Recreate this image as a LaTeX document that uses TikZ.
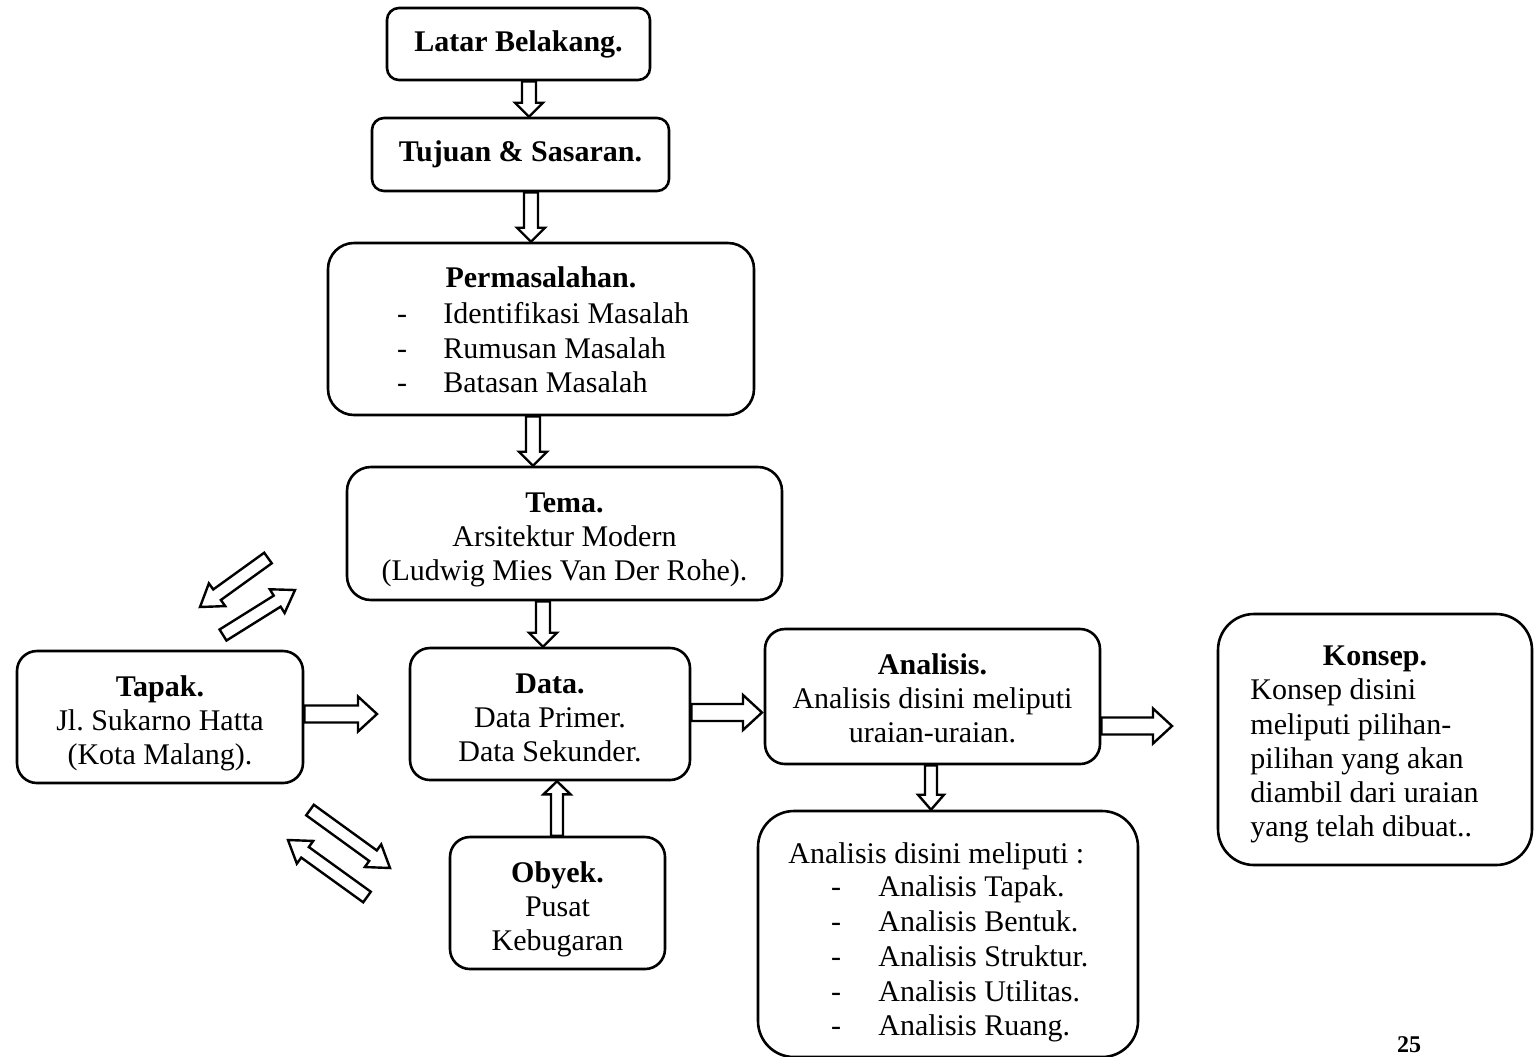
\documentclass[tikz,border=0pt]{standalone}
\usepackage{fontspec}
\setmainfont{Liberation Serif}
\usetikzlibrary{calc}
\frenchspacing

\tikzset{
  box/.style={draw, line width=1.3pt, align=center, inner sep=0pt,
    font=\fontsize{15}{17}\selectfont},
  boxtext/.style={align=center, inner sep=0pt, font=\fontsize{15}{17}\selectfont},
  txt/.style={inner sep=0pt, anchor=base west, font=\fontsize{15}{17}\selectfont},
  dashtxt/.style={inner sep=0pt, anchor=base, font=\fontsize{15}{17}\selectfont},
  ttl/.style={inner sep=0pt, anchor=base, font=\fontsize{15}{17}\selectfont\bfseries},
  arrowline/.style={draw, line width=1.2pt, line join=miter, fill=white},
}

% hollow block arrow: #1 tail, #2 tip, #3 half shaft width, #4 half head width, #5 head length
\newcommand{\blockarrow}[5]{%
  \coordinate (ba-h) at ($(#2)!#5!(#1)$);
  \path[arrowline] ($(#1)!#3!90:(#2)$) -- ($(ba-h)!#3!-90:(#1)$)
    -- ($(ba-h)!#4!-90:(#1)$) -- (#2) -- ($(ba-h)!#4!90:(#1)$)
    -- ($(ba-h)!#3!90:(#1)$) -- ($(#1)!#3!-90:(#2)$) -- cycle;}

\begin{document}
\begin{tikzpicture}[x=0.5pt,y=-0.5pt]
\useasboundingbox (0,0) rectangle (1534,1056);

% boxes
\node[box, minimum width=131.5pt, minimum height=36pt, rounded corners=6pt]
  (lb) at (518.5,44) {\textbf{Latar Belakang.}};
\node[box, minimum width=148.5pt, minimum height=36.5pt, rounded corners=6pt]
  (ts) at (520.5,154.5) {\textbf{Tujuan \& Sasaran.}};
\node[box, minimum width=213pt, minimum height=86pt, rounded corners=13pt]
  (pm) at (541,329) {};
\node[box, minimum width=217.5pt, minimum height=66.5pt, rounded corners=12pt]
  (tm) at (564.5,533.5) {};
\node[box, minimum width=143pt, minimum height=66pt, rounded corners=10pt]
  (tp) at (160,717) {};
\node[box, minimum width=140pt, minimum height=66pt, rounded corners=10pt]
  (dt) at (550,714) {};
\node[box, minimum width=107.5pt, minimum height=66pt, rounded corners=10pt]
  (ob) at (557.5,903) {};
\node[box, minimum width=167.5pt, minimum height=67.5pt, rounded corners=10pt]
  (an) at (932.5,696.5) {};
\node[box, minimum width=190pt, minimum height=123pt, rounded corners=18pt]
  (al) at (948,934) {};
\node[box, minimum width=157pt, minimum height=125.5pt, rounded corners=18pt]
  (ks) at (1375,739.5) {};

% centred box texts
\node[boxtext] (tm-t) at (564.5,539.5) {\textbf{Tema.}\\Arsitektur Modern\\(Ludwig Mies Van Der Rohe).};
\node[boxtext] (tp-t) at (160,723) {\textbf{Tapak.}\\Jl. Sukarno Hatta\\(Kota Malang).};
\node[boxtext] (dt-t) at (550,718) {\textbf{Data.}\\Data Primer.\\Data Sekunder.};
\node[boxtext] (ob-t) at (557.5,909) {\textbf{Obyek.}\\Pusat\\Kebugaran};
\node[boxtext] (an-t) at (932.5,698.5) {\textbf{Analisis.}\\Analisis disini meliputi\\uraian-uraian.};

% Permasalahan text
\node[ttl] (pm-t) at (541,287) {Permasalahan.};
\node[dashtxt] (pm-d1) at (402,323) {-};
\node[dashtxt] (pm-d2) at (402,358) {-};
\node[dashtxt] (pm-d3) at (402,392) {-};
\node[txt] (pm-1) at (443,323) {Identifikasi Masalah};
\node[txt] (pm-2) at (443,358) {Rumusan Masalah};
\node[txt] (pm-3) at (443,392) {Batasan Masalah};

% analysis list text
\node[txt] (al-t) at (788,863) {Analisis disini meliputi :};
\foreach \yy/\tt [count=\i] in {896/Analisis Tapak., 931/Analisis Bentuk.,
    966/Analisis Struktur., 1001/Analisis Utilitas., 1035/Analisis Ruang.}{
  \node[dashtxt] (al-d\i) at (836,\yy) {-};
  \node[txt] (al-\i) at (878,\yy) {\tt};
}

% Konsep text
\node[ttl] (ks-t) at (1375,665) {Konsep.};
\foreach \yy/\tt [count=\i] in {699/Konsep disini, 734/meliputi pilihan-,
    768/pilihan yang akan, 802/diambil dari uraian, 836/yang telah dibuat..}{
  \node[txt] (ks-\i) at (1250,\yy) {\tt};
}

% page number
\node[inner sep=0pt, anchor=base, font=\fontsize{12}{14}\selectfont\bfseries]
  (pg) at (1409,1052) {25};

% helper columns / rows
\coordinate (x529) at (529,0);
\coordinate (x531) at (531,0);
\coordinate (x533) at (533,0);
\coordinate (x543) at (543,0);
\coordinate (x557) at (557,0);
\coordinate (x931) at (931,0);
\coordinate (y714) at (0,714);
\coordinate (y712) at (0,712.5);
\coordinate (y726) at (0,726);

% vertical arrows
\coordinate (a1t) at (lb.south -| x529); \coordinate (a1h) at (ts.north -| x529);
\coordinate (a2t) at (ts.south -| x531); \coordinate (a2h) at (pm.north -| x531);
\coordinate (a3t) at (pm.south -| x533); \coordinate (a3h) at (tm.north -| x533);
\coordinate (a4t) at (tm.south -| x543); \coordinate (a4h) at (dt.north -| x543);
\coordinate (a5t) at (ob.north -| x557); \coordinate (a5h) at (dt.south -| x557);
\coordinate (a6t) at (an.south -| x931); \coordinate (a6h) at (al.north -| x931);
\blockarrow{a1t}{a1h}{3.5pt}{7pt}{7pt}
\blockarrow{a2t}{a2h}{3.5pt}{7pt}{7pt}
\blockarrow{a3t}{a3h}{3.5pt}{7pt}{7pt}
\blockarrow{a4t}{a4h}{3.5pt}{7pt}{7pt}
\blockarrow{a5t}{a5h}{3pt}{6.75pt}{6.5pt}
\blockarrow{a6t}{a6h}{3pt}{6.5pt}{7.5pt}

% horizontal arrows
\coordinate (h1t) at (tp.east |- y714); \coordinate (h1h) at (377,714);
\coordinate (h2t) at (dt.east |- y712); \coordinate (h2h) at (762,712.5);
\coordinate (h3t) at (an.east |- y726); \coordinate (h3h) at (1172,726);
\blockarrow{h1t}{h1h}{4.25pt}{8.75pt}{9.5pt}
\blockarrow{h2t}{h2h}{4.25pt}{8.75pt}{9.5pt}
\blockarrow{h3t}{h3h}{4.25pt}{8.75pt}{9.5pt}

% diagonal arrow pairs beside Tapak
\coordinate (d1t) at (268,558); \coordinate (d1h) at (200,607);
\coordinate (d2t) at (223,635); \coordinate (d2h) at (295,590);
\coordinate (d3t) at (310,810); \coordinate (d3h) at (390,868);
\coordinate (d4t) at (367,897); \coordinate (d4h) at (288,840);
\blockarrow{d1t}{d1h}{3.25pt}{7pt}{10.5pt}
\blockarrow{d2t}{d2h}{3.25pt}{7pt}{10.5pt}
\blockarrow{d3t}{d3h}{3.25pt}{7pt}{10.5pt}
\blockarrow{d4t}{d4h}{3.25pt}{7pt}{10.5pt}

\end{tikzpicture}
\end{document}
